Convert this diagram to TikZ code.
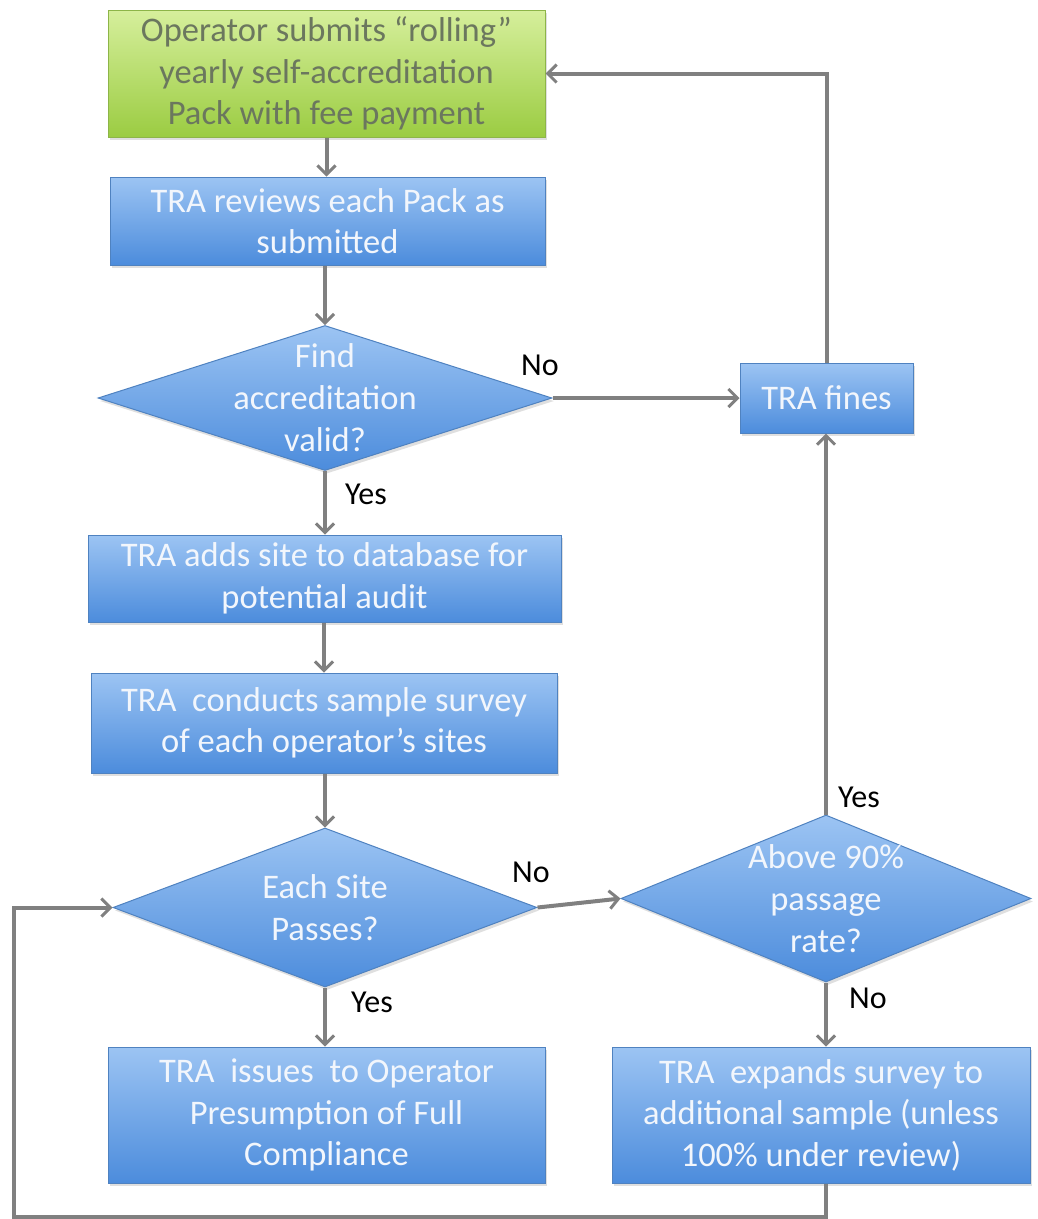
\documentclass[tikz,border=0pt]{standalone}
\usepackage{fontspec}
\setmainfont{Carlito}
\usetikzlibrary{arrows.meta,shapes.geometric,shadows}
\definecolor{btop}{HTML}{9CC4F3}
\definecolor{bbot}{HTML}{4C8CDC}
\definecolor{bline}{HTML}{4F82C0}
\definecolor{gtop}{HTML}{D6EF9C}
\definecolor{gbot}{HTML}{9BCC42}
\definecolor{gline}{HTML}{8DB548}
\definecolor{gtext}{HTML}{6B775E}
\definecolor{btext}{HTML}{F2F6FC}
\definecolor{conncol}{HTML}{808080}
\tikzset{
  bluebox/.style={draw=bline, line width=1pt, top color=btop, bottom color=bbot, align=center, text=btext,
    font=\fontsize{34.5}{41.5}\selectfont, inner sep=0pt,
    drop shadow={opacity=0.25, shadow xshift=2pt, shadow yshift=-3pt}},
  greenbox/.style={draw=gline, line width=1pt, top color=gtop, bottom color=gbot, align=center, text=gtext,
    font=\fontsize{34.5}{41.5}\selectfont, inner sep=0pt,
    drop shadow={opacity=0.25, shadow xshift=2pt, shadow yshift=-3pt}},
  dia/.style={diamond, draw=bline, line width=1pt, top color=btop, bottom color=bbot, inner sep=0pt,
    drop shadow={opacity=0.25, shadow xshift=2pt, shadow yshift=-3pt}},
  diatext/.style={align=center, text=btext, font=\fontsize{34.5}{42}\selectfont, inner sep=0pt},
  conn/.style={draw=conncol, line width=4pt, -{Straight Barb[length=9pt,width=18pt,line width=3pt]}},
  lbl/.style={text=black, font=\fontsize{32}{36}\selectfont, inner sep=0pt}
}
\begin{document}
\begin{tikzpicture}[x=1pt,y=-1pt]
\useasboundingbox (0,0) rectangle (1037,1219);
\fill[white] (0,0) rectangle (1037,1219);

\node[greenbox, minimum width=437, minimum height=127] (green) at (326.5,73.5) {Operator submits “rolling”\\yearly self-accreditation\\Pack with fee payment};
\node[bluebox, minimum width=435, minimum height=88] (review) at (327.5,221) {TRA reviews each Pack as\\submitted};
\node[dia, minimum width=454, minimum height=145] (d1) at (325,398) {};
\node[diatext] at (d1) {Find\\accreditation\\valid?};
\node[bluebox, minimum width=173, minimum height=70] (fines) at (826.5,398) {TRA fines};
\node[bluebox, minimum width=473, minimum height=87] (adds) at (324.5,578.5) {TRA adds site to database for\\potential audit};
\node[bluebox, minimum width=466, minimum height=100] (conducts) at (324,723) {TRA\ \ conducts sample survey\\of each operator’s sites};
\node[dia, minimum width=424, minimum height=159] (d2) at (325,907.5) {};
\node[diatext] at (d2) {Each Site\\Passes?};
\node[dia, minimum width=410, minimum height=167] (d3) at (826,898.5) {};
\node[diatext] at (d3) {Above 90\%\\passage\\rate?};
\node[bluebox, minimum width=437, minimum height=136] (issues) at (326.5,1115) {TRA\ \ issues\ \ to Operator\\Presumption\ of Full\\Compliance};
\node[bluebox, minimum width=418, minimum height=136] (expands) at (821,1115) {TRA\ \ expands survey to\\additional sample (unless\\100\% under review)};

\coordinate (lb) at (14,1217);

\draw[conn] (green.south) -- (green.south |- review.north);
\draw[conn] (review.south -| d1.north) -- (d1.north);
\draw[conn] (d1.east) -- (fines.west);
\draw[conn] (fines.north) |- (green.east);
\draw[conn] (d1.south) -- (d1.south |- adds.north);
\draw[conn] (adds.south -| conducts.north) -- (conducts.north);
\draw[conn] (conducts.south -| d2.north) -- (d2.north);
\draw[conn] (d2.east) -- (d3.west);
\draw[conn] (d2.south) -- (d2.south |- issues.north);
\draw[conn] (d3.north) -- (d3.north |- fines.south);
\draw[conn] (d3.south) -- (d3.south |- expands.north);
\draw[conn] (expands.south -| d3.south) |- (lb) |- (d2.west);

\node[lbl] (l1) at (540,365) {No};
\node[lbl] (l2) at (366,494) {Yes};
\node[lbl] (l3) at (531,872) {No};
\node[lbl] (l4) at (372,1002) {Yes};
\node[lbl] (l5) at (859,797) {Yes};
\node[lbl] (l6) at (868,998) {No};
\end{tikzpicture}
\end{document}
